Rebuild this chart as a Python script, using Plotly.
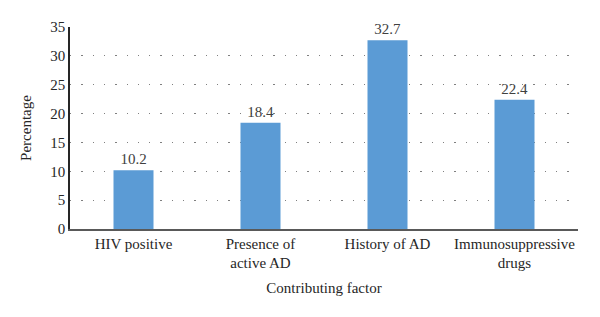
import plotly.graph_objects as go

categories = ["HIV positive", "Presence of<br>active AD", "History of AD", "Immunosuppressive<br>drugs"]
values = [10.2, 18.4, 32.7, 22.4]
y_ticks = [0, 5, 10, 15, 20, 25, 30, 35]

font_family = "Liberation Serif, Times New Roman, serif"

fig = go.Figure(
    go.Bar(
        x=categories,
        y=values,
        marker=dict(color="#5b9bd5", line=dict(color="#5b9bd5", width=0)),
        text=[f"{v}" for v in values],
        textposition="outside",
        textfont=dict(family=font_family, size=15, color="#404040"),
        cliponaxis=False,
    )
)

fig.update_layout(
    width=600,
    height=317,
    margin=dict(l=62, r=30, t=19, b=96),
    paper_bgcolor="white",
    plot_bgcolor="white",
    bargap=0.685,
    showlegend=False,
    font=dict(family=font_family, size=15, color="#262626"),
)

fig.update_xaxes(
    automargin=False,
    showline=True,
    linecolor="#595959",
    linewidth=1.5,
    ticks="",
    showgrid=False,
    tickfont=dict(family=font_family, size=15, color="#262626"),
    title=dict(text="Contributing factor", font=dict(family=font_family, size=15, color="#262626"), standoff=12),
)

fig.update_yaxes(
    automargin=False,
    range=[0, 35],
    tickvals=y_ticks,
    showline=True,
    linecolor="#262626",
    linewidth=1.5,
    ticks="",
    showgrid=True,
    gridcolor="#7f7f7f",
    gridwidth=1.3,
    griddash="1.3px,10px",
    zeroline=False,
    tickfont=dict(family=font_family, size=15, color="#262626"),
    title=dict(text="Percentage", font=dict(family=font_family, size=15, color="#262626"), standoff=15),
)

fig.write_html("out.html")
